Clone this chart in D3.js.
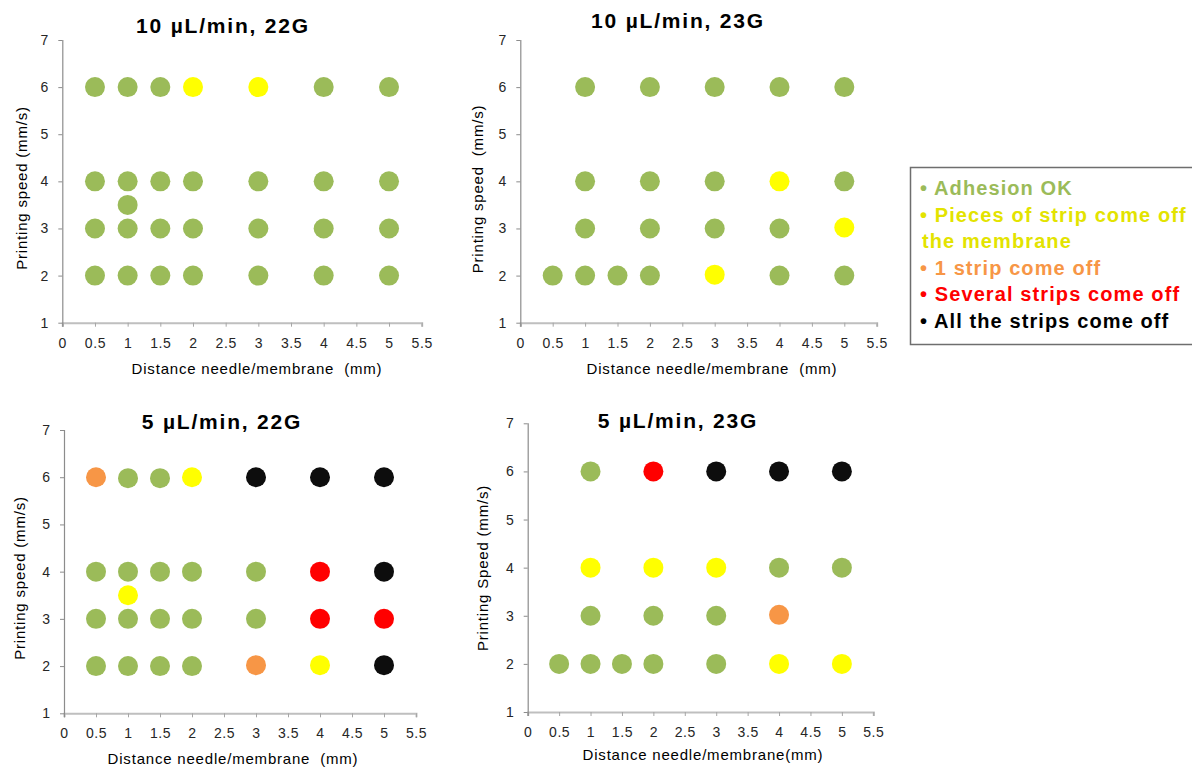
<!DOCTYPE html>
<html>
<head>
<meta charset="utf-8">
<script src="https://cdn.jsdelivr.net/npm/d3@7"></script>
<style>
  html, body { margin: 0; padding: 0; background: #fff; }
  svg { display: block; font-family: "Liberation Sans", Arial, sans-serif; }
  text.lbl { white-space: pre; }
</style>
</head>
<body>
<svg id="chart" width="1192" height="769"></svg>
<script>
// ---------- DATA ----------
const statusLabels = ["Adhesion OK", "Pieces of strip come off the membrane", "1 strip come off", "Several strips come off", "All the strips come off"];
const statusColors = ["#9BBB59", "#FFFF00", "#F79646", "#FF0000", "#0D0D0D"];
const legendTextColors = ["#9BBB59", "#E3E300", "#F79646", "#FF0000", "#000000"];

const xTickValues = [0, 0.5, 1, 1.5, 2, 2.5, 3, 3.5, 4, 4.5, 5, 5.5];
const yTickValues = [1, 2, 3, 4, 5, 6, 7];

const panelTitles = ["10 µL/min, 22G", "10 µL/min, 23G", "5 µL/min, 22G", "5 µL/min, 23G"];
const panelYLabels = ["Printing speed (mm/s)", "Printing speed  (mm/s)", "Printing speed (mm/s)", "Printing Speed (mm/s)"];
const panelXLabels = ["Distance needle/membrane  (mm)", "Distance needle/membrane  (mm)", "Distance needle/membrane  (mm)", "Distance needle/membrane(mm)"];

// 10 µL/min, 22G
const p1Distance = [0.5, 1, 1.5, 2, 3, 4, 5,  0.5, 1, 1.5, 2, 3, 4, 5,  1,  0.5, 1, 1.5, 2, 3, 4, 5,  0.5, 1, 1.5, 2, 3, 4, 5];
const p1Speed    = [6, 6, 6, 6, 6, 6, 6,  4, 4, 4, 4, 4, 4, 4,  3.5,  3, 3, 3, 3, 3, 3, 3,  2, 2, 2, 2, 2, 2, 2];
const p1Status   = [0, 0, 0, 1, 1, 0, 0,  0, 0, 0, 0, 0, 0, 0,  0,  0, 0, 0, 0, 0, 0, 0,  0, 0, 0, 0, 0, 0, 0];

// 10 µL/min, 23G
const p2Distance = [1, 2, 3, 4, 5,  1, 2, 3, 4, 5,  1, 2, 3, 4, 5,  0.5, 1, 1.5, 2, 3, 4, 5];
const p2Speed    = [6, 6, 6, 6, 6,  4, 4, 4, 4, 4,  3, 3, 3, 3, 3.02,  2, 2, 2, 2, 2.02, 2, 2];
const p2Status   = [0, 0, 0, 0, 0,  0, 0, 0, 1, 0,  0, 0, 0, 0, 1,  0, 0, 0, 0, 1, 0, 0];

// 5 µL/min, 22G
const p3Distance = [0.5, 1, 1.5, 2, 3, 4, 5,  0.5, 1, 1.5, 2, 3, 4, 5,  1,  0.5, 1, 1.5, 2, 3, 4, 5,  0.5, 1, 1.5, 2, 3, 4, 5];
const p3Speed    = [6, 5.98, 5.98, 6, 6, 6, 6,  4, 4, 4, 4, 4, 4, 4,  3.5,  3, 3, 3, 3, 3, 3, 3,  2, 2, 2, 2, 2.02, 2.02, 2.02];
const p3Status   = [2, 0, 0, 1, 4, 4, 4,  0, 0, 0, 0, 0, 3, 4,  1,  0, 0, 0, 0, 0, 3, 3,  0, 0, 0, 0, 2, 1, 4];

// 5 µL/min, 23G
const p4Distance = [1, 2, 3, 4, 5,  1, 2, 3, 4, 5,  1, 2, 3, 4,  0.5, 1, 1.5, 2, 3, 4, 5];
const p4Speed    = [6, 6, 6, 6, 6,  4, 4, 4, 4, 4,  3, 3, 3, 3.02,  2, 2, 2, 2, 2, 2, 2];
const p4Status   = [0, 3, 4, 4, 4,  1, 1, 1, 0, 0,  0, 0, 0, 2,  0, 0, 0, 0, 0, 1, 1];

// ---------- LAYOUT ----------
const panels = [
  { d: p1Distance, s: p1Speed, st: p1Status, left: 62.3, right: 421.7, top: 40, bottom: 322.7,
    tx: 223, ty: 33, ylx: 22, yly: 188, xlx: 257, xly: 374 },
  { d: p2Distance, s: p2Speed, st: p2Status, left: 520.3, right: 876.7, top: 40, bottom: 322.7,
    tx: 678, ty: 28, ylx: 478, yly: 189, xlx: 712, xly: 374 },
  { d: p3Distance, s: p3Speed, st: p3Status, left: 64, right: 416, top: 430, bottom: 713.3,
    tx: 222, ty: 429, ylx: 20, yly: 578, xlx: 233, xly: 764 },
  { d: p4Distance, s: p4Speed, st: p4Status, left: 527.7, right: 873.3, top: 423.3, bottom: 712,
    tx: 678, ty: 428, ylx: 483, yly: 568, xlx: 703, xly: 760 }
];

const svg = d3.select("#chart");
const fmt = d3.format("");

panels.forEach((p, i) => {
  const x = d3.scaleLinear().domain([0, 5.5]).range([p.left, p.right]);
  const y = d3.scaleLinear().domain([1, 7]).range([p.bottom, p.top]);
  const g = svg.append("g");

  // X axis
  const xa = g.append("g")
    .attr("transform", `translate(0,${p.bottom})`)
    .call(d3.axisBottom(x).tickValues(xTickValues).tickFormat(fmt).tickSizeOuter(0).tickSize(4).tickPadding(11));
  xa.select(".domain").attr("stroke", "#BFBFBF").attr("stroke-width", 2);
  xa.selectAll(".tick line").attr("stroke", "#A6A6A6");
  xa.selectAll(".tick text").attr("fill", "#262626").attr("font-size", 14)
    .style("letter-spacing", "0.6px").attr("font-family", "Liberation Sans, Arial, sans-serif");

  // Y axis
  const ya = g.append("g")
    .attr("transform", `translate(${p.left},0)`)
    .call(d3.axisLeft(y).tickValues(yTickValues).tickFormat(fmt).tickSizeOuter(0).tickSize(4).tickPadding(10));
  ya.select(".domain").attr("stroke", "#8C8C8C").attr("stroke-width", 1.2)
    .attr("d", `M0.5,${p.top}V${p.bottom + 4}`);
  ya.selectAll(".tick line").attr("stroke", "#8C8C8C");
  ya.selectAll(".tick text").attr("fill", "#262626").attr("font-size", 14)
    .attr("font-family", "Liberation Sans, Arial, sans-serif");

  // Points
  g.append("g").selectAll("circle")
    .data(d3.range(p.d.length))
    .join("circle")
    .attr("cx", k => x(p.d[k]))
    .attr("cy", k => y(p.s[k]))
    .attr("r", 10)
    .attr("fill", k => statusColors[p.st[k]]);

  // Title
  g.append("text")
    .attr("class", "lbl")
    .attr("x", p.tx).attr("y", p.ty)
    .attr("text-anchor", "middle")
    .attr("font-size", 21).attr("font-weight", "bold")
    .style("letter-spacing", "1.8px")
    .attr("fill", "#000")
    .text(panelTitles[i]);

  // Y label
  g.append("text")
    .attr("class", "lbl")
    .attr("transform", `translate(${p.ylx + 5},${p.yly}) rotate(-90)`)
    .attr("text-anchor", "middle")
    .attr("font-size", 15)
    .style("letter-spacing", "0.8px")
    .attr("fill", "#000")
    .text(panelYLabels[i]);

  // X label
  g.append("text")
    .attr("class", "lbl")
    .attr("x", p.xlx).attr("y", p.xly)
    .attr("text-anchor", "middle")
    .attr("font-size", 15)
    .style("letter-spacing", "0.8px")
    .attr("fill", "#000")
    .text(panelXLabels[i]);
});

// ---------- LEGEND ----------
const lg = svg.append("g");
lg.append("rect")
  .attr("x", 910.5).attr("y", 167.5)
  .attr("width", 300).attr("height", 177)
  .attr("fill", "#fff").attr("stroke", "#6E6E6E").attr("stroke-width", 1.5);

const legendLines = [
  { t: "• " + statusLabels[0], c: 0 },
  { t: "• Pieces of strip come off", c: 1 },
  { t: "the membrane", c: 1 },
  { t: "• " + statusLabels[2], c: 2 },
  { t: "• " + statusLabels[3], c: 3 },
  { t: "• " + statusLabels[4], c: 4 }
];
const legendBase = d3.scaleLinear().domain([0, 5]).range([195, 328]);
lg.selectAll("text")
  .data(legendLines)
  .join("text")
  .attr("x", (d, k) => k === 2 ? 922 : 920)
  .attr("y", (d, k) => legendBase(k))
  .attr("font-size", 20).attr("font-weight", "bold")
  .style("letter-spacing", "1.1px")
  .attr("fill", d => legendTextColors[d.c])
  .text(d => d.t);
</script>
</body>
</html>
